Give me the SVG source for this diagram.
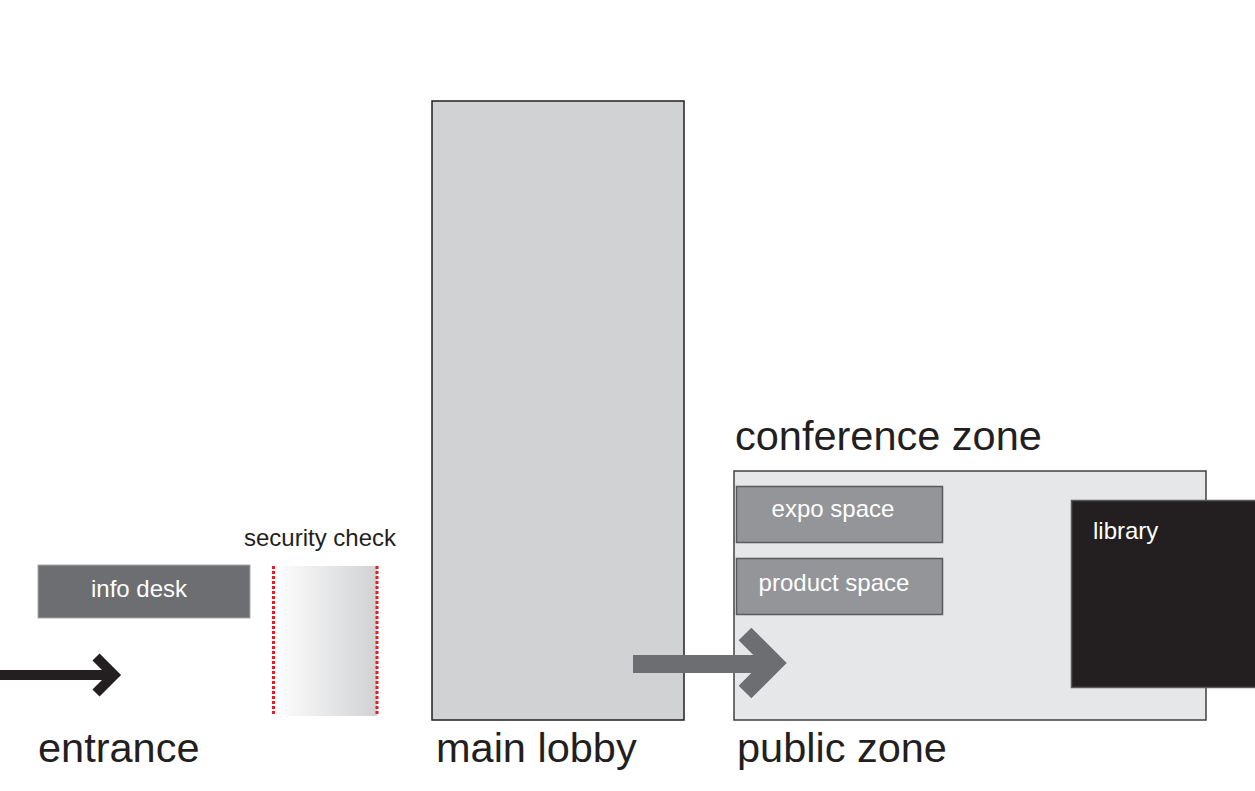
<svg xmlns="http://www.w3.org/2000/svg" width="1255" height="791" viewBox="0 0 1255 791">
<defs>
<linearGradient id="secGrad" x1="0" y1="0" x2="1" y2="0">
<stop offset="0" stop-color="#ffffff"/>
<stop offset="1" stop-color="#d1d2d4"/>
</linearGradient>
<style>
.big{font-family:"Liberation Sans","Open Sans",sans-serif;font-size:41.5px;fill:#231f20}
.small{font-family:"Liberation Sans","Open Sans",sans-serif;font-size:24px}
.white{fill:#ffffff}
.dark{fill:#231f20}
.dots{stroke:#ed1c24;stroke-width:3;stroke-dasharray:3 2}
</style>
</defs>
<rect width="1255" height="791" fill="#ffffff"/>
<g id="main-lobby">
<rect x="432" y="101" width="252" height="619" fill="#d1d2d4" stroke="#231f20" stroke-width="1.5"/>
<text class="big" x="436" y="762">main lobby</text>
</g>
<g id="public-zone">
<rect x="734" y="471" width="472" height="249" fill="#e6e7e8" stroke="#414042" stroke-width="1.5"/>
<text class="big" x="737" y="762">public zone</text>
<text class="big" x="735" y="450">conference zone</text>
</g>
<g id="expo-space">
<rect x="736.5" y="486.5" width="206" height="56" fill="#939598" stroke="#58595b" stroke-width="1.5"/>
<text class="small white" x="833" y="517" text-anchor="middle">expo space</text>
</g>
<g id="product-space">
<rect x="736.5" y="558.5" width="206" height="56" fill="#939598" stroke="#58595b" stroke-width="1.5"/>
<text class="small white" x="834" y="591" text-anchor="middle">product space</text>
</g>
<g id="library">
<rect x="1071.5" y="500.5" width="190" height="187" fill="#231f20" stroke="#58595b" stroke-width="1.5"/>
<text class="small white" x="1093" y="539">library</text>
</g>
<g id="info-desk">
<rect x="38" y="565" width="212" height="53" fill="#6d6e71" stroke="#a7a9ac" stroke-width="1"/>
<text class="small white" x="139" y="597" text-anchor="middle">info desk</text>
</g>
<g id="security-check">
<rect x="273" y="566" width="104" height="150" fill="url(#secGrad)"/>
<line class="dots" x1="273.5" y1="566" x2="273.5" y2="716"/>
<line class="dots" x1="377" y1="566" x2="377" y2="716"/>
<text class="small dark" x="244" y="546">security check</text>
</g>
<g id="entrance">
<text class="big" x="38" y="762">entrance</text>
</g>
<g id="connectors">
<g id="entrance-arrow" fill="none" stroke="#231f20" stroke-width="10">
<line x1="0" y1="675" x2="116" y2="675"/>
<polyline points="96,657 114,675 96,693"/>
</g>
<g id="lobby-arrow" fill="none" stroke="#6d6e71" stroke-width="18">
<line x1="633" y1="664" x2="776" y2="664"/>
<polyline points="745,634 774,663 745,692"/>
</g>
</g>
</svg>
